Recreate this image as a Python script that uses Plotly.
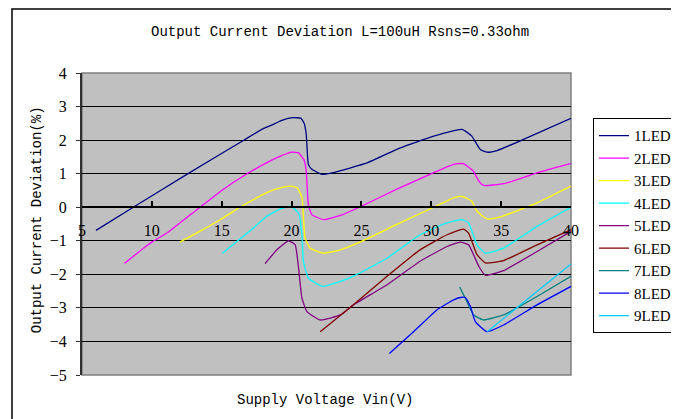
import plotly.graph_objects as go

# Supply voltage (V) vs output current deviation (%) for each LED count
vin_1 = [6, 8.67, 12.5, 16.55, 17.87, 18.7, 19.3, 20.1, 20.67, 20.9, 21.05, 21.2, 21.45, 22.17, 23.0,
         25.4, 27.78, 30.17, 32.2, 32.9, 33.5, 34.0, 34.7, 36.6, 40]
dev_1 = [-0.69, 0, 0.98, 1.99, 2.32, 2.47, 2.59, 2.67, 2.65, 2.5, 2.17, 1.28, 1.13, 0.98, 1.03,
         1.32, 1.77, 2.12, 2.32, 2.12, 1.72, 1.64, 1.69, 2.02, 2.65]

vin_2 = [8.03, 9.4, 10.0, 11.07, 12.0, 13.45, 15.1, 16.55, 18.2, 19.2, 20.0, 20.5, 20.74, 20.9, 21.05,
         21.2, 21.45, 22.3, 23.5, 25.0, 27.5, 30.17, 31.6, 32.3, 33.0, 33.4, 33.75, 35.2, 37.6, 40]
dev_2 = [-1.68, -1.22, -1.04, -0.77, -0.47, 0, 0.53, 0.93, 1.32, 1.52, 1.64, 1.62, 1.5, 1.4, 1.08,
         0.08, -0.22, -0.37, -0.24, 0.03, 0.53, 1.03, 1.28, 1.3, 1.08, 0.78, 0.65, 0.7, 1.03, 1.31]

vin_3 = [12.0, 13.2, 15.1, 16.3, 17.5, 18.47, 19.2, 19.9, 20.4, 20.74, 20.85, 20.97, 21.33, 22.3, 23.5,
         25.0, 27.5, 30.17, 31.6, 32.2, 32.9, 33.27, 34.0, 34.94, 37.57, 40]
dev_3 = [-1.04, -0.77, -0.32, 0, 0.28, 0.48, 0.58, 0.63, 0.58, 0.3, -0.3, -0.92, -1.22, -1.37, -1.27,
         -1.02, -0.52, 0, 0.28, 0.32, 0.18, -0.12, -0.35, -0.29, 0.13, 0.63]

vin_4 = [15.05, 16.08, 17.27, 18.23, 19.2, 19.9, 20.26, 20.54, 20.74, 20.85, 21.2, 22.2, 23.5, 24.4,
         26.83, 29.2, 31.1, 32.2, 32.67, 33.27, 33.87, 35.17, 37.57, 40]
dev_4 = [-1.37, -1.02, -0.62, -0.27, -0.05, 0.03, -0.07, -0.22, -0.82, -1.61, -2.11, -2.36, -2.21, -2.06,
         -1.52, -0.82, -0.47, -0.37, -0.47, -1.12, -1.37, -1.22, -0.57, 0]

vin_5 = [18.1, 18.95, 19.78, 20.26, 20.5, 20.74, 21.1, 22.05, 23.5, 24.43, 26.83, 29.2, 31.13, 32.08,
         32.67, 33.4, 33.87, 35.17, 37.57, 40]
dev_5 = [-1.68, -1.27, -1.0, -1.12, -1.81, -2.71, -3.11, -3.36, -3.21, -2.91, -2.31, -1.61, -1.17, -1.04,
         -1.12, -1.76, -2.03, -1.89, -1.32, -0.72]

vin_6 = [22.05, 24.43, 26.83, 29.2, 31.13, 32.3, 32.67, 33.27, 33.87, 35.17, 37.57, 40]
dev_6 = [-3.71, -2.91, -2.06, -1.27, -0.82, -0.65, -0.77, -1.41, -1.66, -1.59, -1.12, -0.67]

vin_7 = [32.03, 32.43, 33.03, 33.75, 35.17, 37.57, 40]
dev_7 = [-2.38, -2.71, -3.21, -3.36, -3.21, -2.66, -2.06]

vin_8 = [27.0, 28.73, 30.4, 31.6, 32.08, 32.43, 32.8, 33.15, 33.99, 35.17, 37.57, 40]
dev_8 = [-4.36, -3.71, -3.06, -2.76, -2.69, -2.69, -2.96, -3.41, -3.71, -3.51, -2.91, -2.36]

vin_9 = [34.0, 40]
dev_9 = [-3.71, -1.69]

names = ['1LED', '2LED', '3LED', '4LED', '5LED', '6LED', '7LED', '8LED', '9LED']
colors = ['#000080', '#FF00FF', '#FFFF00', '#00FFFF', '#800080', '#800000', '#008080', '#0000FF', '#00CCFF']
series = [(vin_1, dev_1), (vin_2, dev_2), (vin_3, dev_3), (vin_4, dev_4), (vin_5, dev_5),
          (vin_6, dev_6), (vin_7, dev_7), (vin_8, dev_8), (vin_9, dev_9)]

x_ticks = [5, 10, 15, 20, 25, 30, 35, 40]
y_ticks = [-5, -4, -3, -2, -1, 0, 1, 2, 3, 4]

mono = 'Liberation Mono'
serif = 'Liberation Serif'

fig = go.Figure()
for name, color, (xs, ys) in zip(names, colors, series):
    fig.add_trace(go.Scatter(x=xs, y=ys, mode='lines', name=name,
                             line=dict(color=color, width=1.3, shape='spline', smoothing=0.4)))

# page body adds an 8px offset, so margins are shifted by that much
fig.update_layout(
    width=679, height=419,
    margin=dict(l=74, r=116, t=64.5, b=52, autoexpand=False),
    paper_bgcolor='white', plot_bgcolor='#C0C0C0',
    showlegend=True,
    legend=dict(x=1.045, y=0.85, xanchor='left', yanchor='top',
                bgcolor='white', bordercolor='black', borderwidth=1,
                font=dict(family=serif, size=15, color='black'),
                itemwidth=30, tracegroupgap=0),
    annotations=[
        dict(text='Output Current Deviation L=100uH Rsns=0.33ohm', xref='paper', yref='paper',
             x=0.528, y=1.0 + 41 / 302.5, showarrow=False, xanchor='center', yanchor='middle',
             font=dict(family=mono, size=14, color='black')),
        dict(text='Supply Voltage Vin(V)', xref='paper', yref='paper',
             x=(325 - 82) / 489, y=-25 / 302.5, showarrow=False, xanchor='center', yanchor='middle',
             font=dict(family=mono, size=14, color='black')),
        dict(text='Output Current Deviation(%)', xref='paper', yref='paper', textangle=-90,
             x=(37 - 82) / 489, y=(375 - 220) / 302.5, showarrow=False, xanchor='center', yanchor='middle',
             font=dict(family=mono, size=14, color='black')),
    ],
    shapes=[
        # plot area frame
        dict(type='rect', xref='paper', yref='paper', x0=0, x1=1, y0=0, y1=1,
             line=dict(color='#808080', width=1.5), layer='below'),
        # outer chart border
        dict(type='rect', xref='paper', yref='paper',
             x0=(12 - 82) / 489, x1=(672 - 82) / 489, y0=-60 / 302.5, y1=1 + 64 / 302.5,
             line=dict(color='black', width=1.5)),
    ],
)

# x axis sits on the zero line, ticks pointing up, labels underneath
fig.update_xaxes(range=[5, 40], tickvals=x_ticks, anchor='free', position=5 / 9,
                 showline=True, linecolor='black', linewidth=1.5,
                 ticks='inside', ticklen=5, tickcolor='black', tickwidth=1.5,
                 ticklabelstandoff=9,
                 showgrid=False, zeroline=False,
                 tickfont=dict(family=serif, size=16, color='black'))
fig.update_yaxes(range=[-5, 4], tickvals=y_ticks,
                 showline=True, linecolor='#303030', linewidth=2,
                 ticks='outside', ticklen=4, tickcolor='#303030',
                 ticklabelstandoff=6,
                 showgrid=True, gridcolor='black', gridwidth=1.3, zeroline=False,
                 tickfont=dict(family=serif, size=16, color='black'))

fig.write_html("out.html")
